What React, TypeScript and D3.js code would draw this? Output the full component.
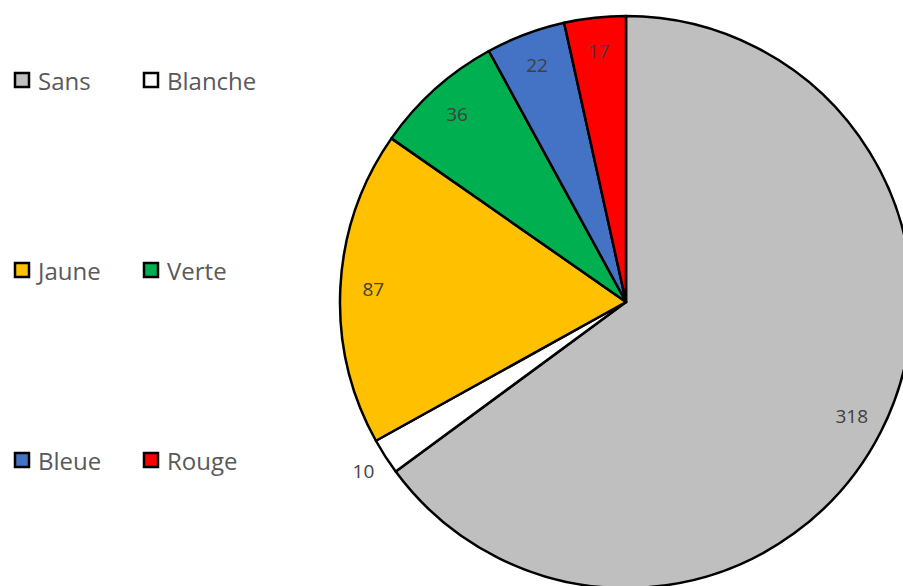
import React from "react";
import * as d3 from "d3";

const categories = ["Sans", "Blanche", "Jaune", "Verte", "Bleue", "Rouge"];
const values = [318, 10, 87, 36, 22, 17];
const colors = ["#bfbfbf", "#ffffff", "#ffc000", "#00b050", "#4472c4", "#ff0000"];
const outsideLabels = ["Blanche"];

const W = 903;
const H = 586;

export default function App() {
  const cx = 626,
    cy = 302,
    r = 286;

  const pie = d3
    .pie<number>()
    .sort(null)
    .value((d) => d);
  const arcs = pie(values);
  const arcGen = d3.arc<d3.PieArcDatum<number>>().innerRadius(0).outerRadius(r);
  const labelArc = d3.arc<d3.PieArcDatum<number>>().innerRadius(253).outerRadius(253);
  const outArc = d3.arc<d3.PieArcDatum<number>>().innerRadius(312).outerRadius(312);

  // legend: 3 rows x 2 cols
  const rowY = d3.scalePoint<number>().domain([0, 1, 2]).range([80, 460]);
  const colX = d3.scalePoint<number>().domain([0, 1]).range([15, 144]);

  return (
    <svg
      width={W}
      height={H}
      style={{ position: "absolute", left: 0, top: 0, background: "#fff" }}
      fontFamily="'Open Sans', 'Liberation Sans', sans-serif"
    >
      <g transform={`translate(${cx},${cy})`}>
        {arcs.map((a, i) => (
          <path key={i} d={arcGen(a) || ""} fill={colors[i]} stroke="#000" strokeWidth={2.5} strokeLinejoin="round" />
        ))}
        {arcs.map((a, i) => {
          const [x, y] = outsideLabels.includes(categories[i]) ? outArc.centroid(a) : labelArc.centroid(a);
          return (
            <text key={i} x={x} y={y} textAnchor="middle" dominantBaseline="central" fontSize={19} fill="#404040">
              {values[i]}
            </text>
          );
        })}
      </g>
      {categories.map((c, i) => {
        const x = colX(i % 2) as number;
        const y = rowY(Math.floor(i / 2)) as number;
        return (
          <g key={c} transform={`translate(${x},${y})`}>
            <rect x={0} y={-7} width={14} height={14} fill={colors[i]} stroke="#000" strokeWidth={2.5} />
            <text x={23} y={0} dominantBaseline="central" fontSize={24} fill="#595959">
              {c}
            </text>
          </g>
        );
      })}
    </svg>
  );
}
